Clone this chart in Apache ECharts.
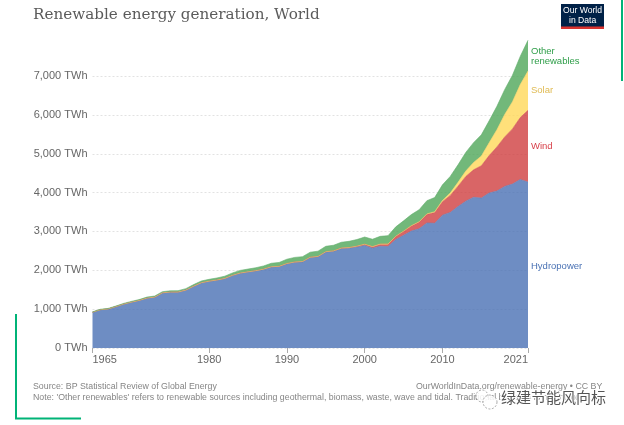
<!DOCTYPE html>
<html><head><meta charset="utf-8">
<style>html,body{margin:0;padding:0;background:#fff}#c{width:624px;height:425px}</style>
<script src="https://cdn.jsdelivr.net/npm/echarts@6/dist/echarts.min.js"></script>
</head><body><div id="c"></div>
<script>
const years = [];
for (let y = 1965; y <= 2021; y++) years.push(String(y));
const hydropower = [920,985,1005,1065,1130,1180,1225,1285,1310,1420,1440,1440,1490,1590,1680,1720,1750,1790,1870,1930,1960,1990,2030,2090,2100,2170,2210,2220,2330,2350,2470,2490,2560,2570,2600,2640,2570,2620,2610,2790,2900,3010,3070,3220,3210,3420,3490,3640,3780,3880,3860,3990,4040,4160,4220,4340,4270];
const wind = [0,0,0,0,0,0,0,0,0,0,0,0,0,0,0,0,0,0,0,0,0,0,0,1,2,4,4,5,6,7,8,10,12,16,21,31,38,52,63,85,104,133,171,220,277,346,437,524,635,706,831,962,1135,1270,1420,1590,1850];
const solar = [0,0,0,0,0,0,0,0,0,0,0,0,0,0,0,0,0,0,0,0,0,0,0,0,0,0,0,0,0,0,0,0,0,0,1,1,2,2,3,3,4,6,8,12,21,33,65,100,140,190,250,330,445,580,700,850,1010];
const other = [10,12,14,15,18,20,22,25,28,30,32,35,38,42,45,48,52,58,62,68,72,76,82,90,100,112,118,125,130,135,140,145,150,160,170,185,190,200,215,240,265,285,310,340,365,400,425,450,480,510,545,565,600,640,680,725,790];
const yTickStep = 1000;
const shownYears = ['1965','1980','1990','2000','2010','2021'];
const seriesNames = ['Hydropower','Wind','Solar','Other renewables'];
const fills = ['rgba(74,112,180,.8)','rgba(207,62,64,.8)','rgba(255,216,89,.8)','rgba(79,166,89,.8)'];
const edges = ['#5f80bb','#d05355','#f6d566','#62ad6b'];
const values = [hydropower, wind, solar, other];
const sans = '"Liberation Sans",Arial,sans-serif';
const txt = (x,y,t,size,fill,extra) => ({type:'text',left:x,top:y,silent:true,style:Object.assign({text:t,fontSize:size,fontFamily:sans,fill:fill},extra||{})});
const rect = (x,y,w,h,fill) => ({type:'rect',shape:{x:x,y:y,width:w,height:h},silent:true,style:{fill:fill}});
const chart = echarts.init(document.getElementById('c'),null,{renderer:'canvas'});
chart.setOption({
  animation:false,
  backgroundColor:'#fff',
  grid:{left:92.5,right:96,top:37.2,bottom:77,containLabel:false},
  xAxis:{type:'category',data:years,boundaryGap:false,
    axisLine:{show:false},
    axisTick:{show:true,length:5,lineStyle:{color:'#aaa',width:1},interval:(i,v)=>shownYears.includes(v)},
    axisLabel:{interval:(i,v)=>shownYears.includes(v),margin:6,fontSize:11,fontFamily:sans,color:'#666',alignMinLabel:'left',alignMaxLabel:'right',showMinLabel:true,showMaxLabel:true},
    splitLine:{show:false}},
  yAxis:{type:'value',min:0,max:8000,interval:yTickStep,
    axisLine:{show:false},axisTick:{show:false},
    axisLabel:{margin:5,fontSize:11,fontFamily:sans,color:'#666',showMaxLabel:false,padding:[2,0,0,0],
      formatter:v=>v.toLocaleString('en-US')+' TWh'},
    splitLine:{show:true,showMaxLine:false,lineStyle:{color:'#e2e2e2',type:[2,2],width:1}}},
  series:seriesNames.map((n,i)=>({name:n,type:'line',stack:'all',data:values[i],symbol:'none',smooth:false,
    lineStyle:{width:.6,color:edges[i]},areaStyle:{color:fills[i],opacity:1},itemStyle:{color:edges[i]}})),
  graphic:[
    txt(33,8,'Renewable energy generation, World',15.2,'#5b5b5b',{fontFamily:'"DejaVu Serif",Georgia,serif'}),
    rect(561,4,43,25,'#002147'),
    rect(561,26.5,43,2.5,'#d9332f'),
    txt(563,6.5,'Our World',8.6,'#fff'),
    txt(569,16,'in Data',8.6,'#fff'),
    txt(531,46,'Other\nrenewables',9.5,'#2f9e49',{lineHeight:10}),
    txt(531,85,'Solar',9.5,'#e0bb54'),
    txt(531,141,'Wind',9.5,'#d8404a'),
    txt(531,261,'Hydropower',9.5,'#4a72b4'),
    txt(33,382,'Source: BP Statistical Review of Global Energy',8.8,'#858585'),
    txt(416,382,'OurWorldInData.org/renewable-energy • CC BY',8.8,'#858585'),
    txt(33,393,"Note: 'Other renewables' refers to renewable sources including geothermal, biomass, waste, wave and tidal. Traditional biomass is not included.",8.8,'#858585'),
    rect(15,314,2,105,'#00b377'),
    rect(15,417.5,66,2,'#00b377'),
    rect(621,0,2,81,'#00b377'),
    {type:'circle',shape:{cx:482,cy:396,r:6},silent:true,style:{fill:'rgba(255,255,255,.85)',stroke:'#888',lineWidth:.7,lineDash:[2,1.5]}},
    {type:'circle',shape:{cx:490,cy:402,r:7},silent:true,style:{fill:'rgba(255,255,255,.85)',stroke:'#888',lineWidth:.7,lineDash:[2,1.5]}},
    txt(500,389,'绿建节能风向标',15,'#555',{fontFamily:'"Noto Sans CJK SC",sans-serif',stroke:'#fff',lineWidth:2})
  ]
});
</script></body></html>
